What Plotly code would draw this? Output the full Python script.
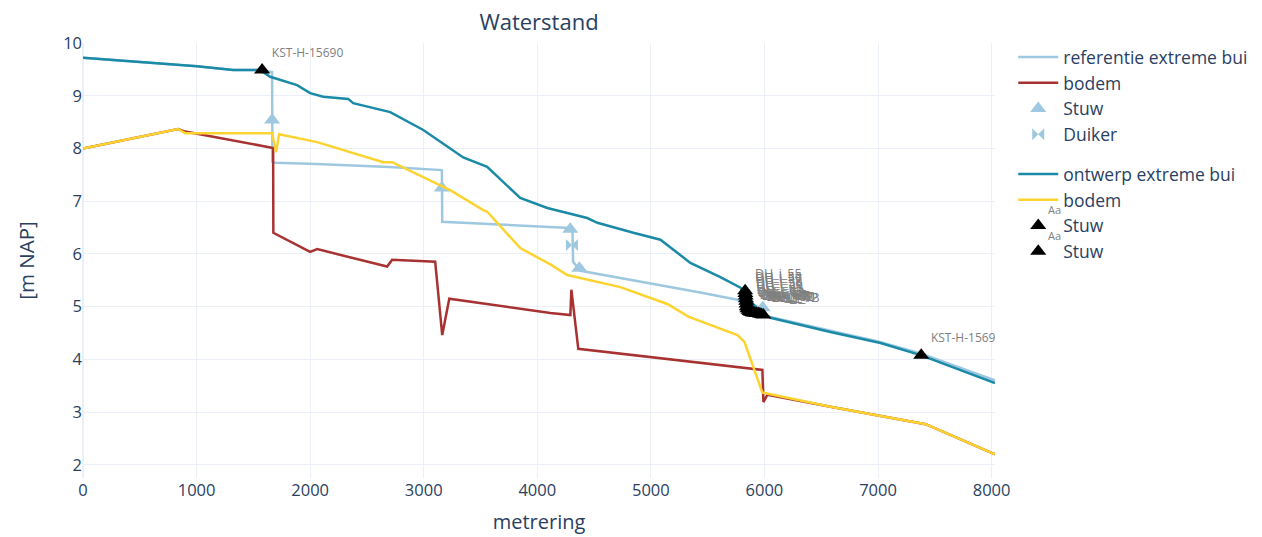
import plotly.graph_objects as go

# referentie extreme bui (waterstand)
ref_x = [0, 476, 1004, 1322, 1559, 1665, 1668, 1690, 2000, 2700, 3160, 3163, 3500, 4115, 4290, 4310, 4315, 4380, 5000, 5436, 5762, 5938, 6000, 6581, 7000, 7375, 8030]
ref_y = [9.72, 9.64, 9.56, 9.49, 9.49, 9.45, 7.75, 7.73, 7.71, 7.65, 7.59, 6.61, 6.57, 6.51, 6.49, 6.45, 5.85, 5.68, 5.44, 5.27, 5.13, 5.00, 4.83, 4.54, 4.34, 4.11, 3.60]

# bodem (referentie)
bod1_x = [0, 837, 899, 1674, 1676, 2000, 2062, 2678, 2722, 3101, 3163, 3225, 4115, 4291, 4300, 4361, 5982, 5991, 6026, 6581, 7420, 8030]
bod1_y = [8.00, 8.37, 8.32, 8.01, 6.40, 6.04, 6.09, 5.76, 5.89, 5.85, 4.46, 5.15, 4.88, 4.84, 5.32, 4.20, 3.80, 3.19, 3.33, 3.10, 2.77, 2.20]

# Stuw (referentie)
stuw1_x = [1665, 3160, 4290, 4370, 5985]
stuw1_y = [8.54, 7.25, 6.47, 5.73, 4.98]

# Duiker (referentie)
duiker_x = [4305]
duiker_y = [6.17]

# ontwerp extreme bui (waterstand)
ont_x = [0, 476, 1004, 1322, 1559, 1648, 1885, 2000, 2115, 2335, 2379, 2705, 2996, 3348, 3559, 3850, 4088, 4440, 4529, 4846, 5084, 5348, 5612, 5789, 5860, 5960, 6053, 6581, 7022, 7375, 8030]
ont_y = [9.72, 9.64, 9.56, 9.49, 9.49, 9.36, 9.20, 9.05, 8.98, 8.94, 8.86, 8.69, 8.35, 7.83, 7.65, 7.06, 6.87, 6.68, 6.59, 6.40, 6.27, 5.83, 5.56, 5.36, 5.15, 4.90, 4.79, 4.52, 4.31, 4.08, 3.55]

# bodem (ontwerp)
bod2_x = [0, 837, 899, 1665, 1700, 1727, 2062, 2643, 2722, 3145, 3233, 3524, 3559, 3850, 4115, 4264, 4731, 5145, 5330, 5762, 5824, 5982, 6581, 7420, 8030]
bod2_y = [8.00, 8.37, 8.29, 8.29, 7.93, 8.27, 8.12, 7.74, 7.74, 7.31, 7.21, 6.83, 6.80, 6.11, 5.80, 5.60, 5.37, 5.05, 4.81, 4.46, 4.33, 3.37, 3.10, 2.77, 2.20]

# Stuw (ontwerp) - kunstwerken
stuw2_x = [1577, 7380]
stuw2_y = [9.49, 4.08]
stuw2_t = ["KST-H-15690", "KST-H-15691"]

# Stuw (ontwerp) - DH cluster
stuw3_x = [5830, 5832, 5835, 5837, 5840, 5842, 5845, 5850, 5860, 5870, 5880, 5890, 5900, 5915, 5930, 5945, 5960, 5975, 5990]
stuw3_y = [5.30, 5.25, 5.20, 5.15, 5.10, 5.05, 5.00, 4.96, 4.93, 4.91, 4.90, 4.89, 4.88, 4.88, 4.87, 4.87, 4.86, 4.85, 4.84]
stuw3_t = ["DH_i_%d" % n for n in range(55, 74)]

c_light = "#9ec8e0"
c_red = "#a83232"
c_teal = "#1a8aa6"
c_yel = "#fdd330"

fig = go.Figure()
fig.add_trace(go.Scatter(x=ref_x, y=ref_y, mode="lines", name="referentie extreme bui",
                         line=dict(color=c_light, width=2.5), legendgroup="ref"))
fig.add_trace(go.Scatter(x=bod1_x, y=bod1_y, mode="lines", name="bodem",
                         line=dict(color=c_red, width=2.5), legendgroup="ref"))
fig.add_trace(go.Scatter(x=stuw1_x, y=stuw1_y, mode="markers", name="Stuw",
                         marker=dict(symbol="triangle-up", color=c_light, size=14), legendgroup="ref"))
fig.add_trace(go.Scatter(x=duiker_x, y=duiker_y, mode="markers", name="Duiker",
                         marker=dict(symbol="bowtie", color=c_light, size=12), legendgroup="ref"))
fig.add_trace(go.Scatter(x=ont_x, y=ont_y, mode="lines", name="ontwerp extreme bui",
                         line=dict(color=c_teal, width=2.5), legendgroup="ont"))
fig.add_trace(go.Scatter(x=bod2_x, y=bod2_y, mode="lines", name="bodem",
                         line=dict(color=c_yel, width=2.5), legendgroup="ont"))
fig.add_trace(go.Scatter(x=stuw2_x, y=stuw2_y, mode="markers+text", name="Stuw", text=stuw2_t,
                         textposition="top right", textfont=dict(color="gray", size=12),
                         marker=dict(symbol="triangle-up", color="black", size=14), legendgroup="ont"))
fig.add_trace(go.Scatter(x=stuw3_x, y=stuw3_y, mode="markers+text", name="Stuw", text=stuw3_t,
                         textposition="top right", textfont=dict(color="gray", size=12.5),
                         marker=dict(symbol="triangle-up", color="black", size=14), legendgroup="ont"))

# legend text-glyph markers ("Aa") for the two markers+text entries
for yy in (0.618, 0.558):
    fig.add_annotation(text="Aa", xref="paper", yref="paper", x=1.0647, y=yy,
                       showarrow=False, font=dict(size=11, color="gray"),
                       xanchor="center", yanchor="middle")

fig.update_layout(
    template="plotly_white",
    width=1262, height=537,
    margin=dict(l=75, r=275, t=35, b=67),
    title=dict(text="Waterstand", x=0.5, xref="paper", xanchor="center",
               y=1 - 14 / 537, yanchor="middle", font=dict(size=22)),
    font=dict(size=17),
    legend=dict(tracegroupgap=14, font=dict(size=17.5), itemwidth=40, y=1.009),
    xaxis=dict(title=dict(text="metrering", font=dict(size=20)), range=[0, 8030], dtick=1000,
               tickfont=dict(size=16.5), automargin=False),
    yaxis=dict(title=dict(text="[m NAP]", standoff=22, font=dict(size=20.5)), range=[1.75, 10], dtick=1,
               tickfont=dict(size=16.5), automargin=False),
)
fig.write_html("out.html")
